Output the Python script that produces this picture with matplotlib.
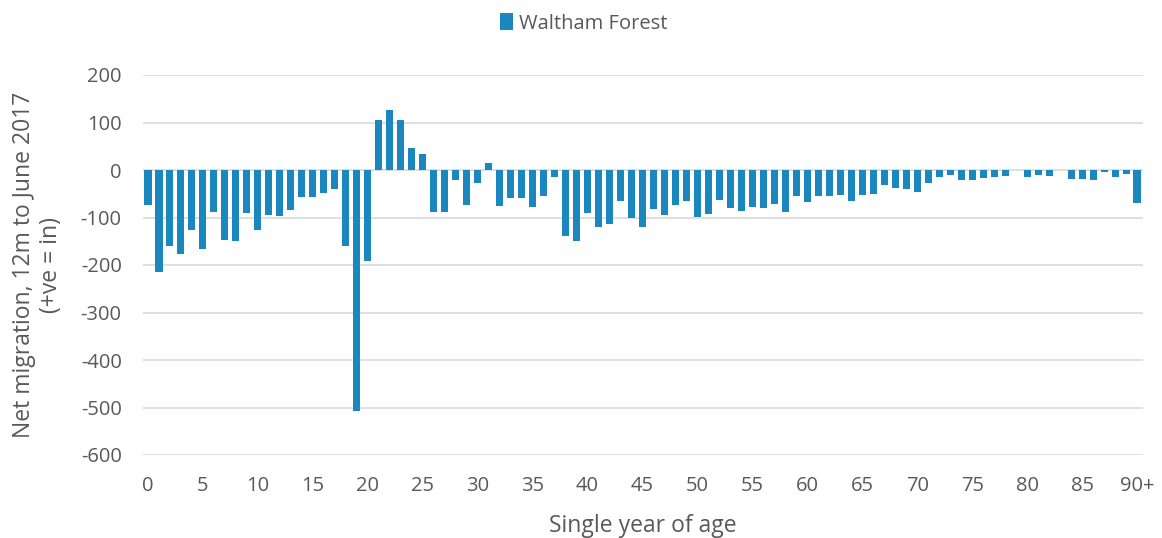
import matplotlib
matplotlib.use("Agg")
import matplotlib.pyplot as plt
import numpy as np

ages = [str(a) for a in range(90)] + ["90+"]
net_migration = [
    -74, -215, -161, -177, -126, -166, -88, -147, -149, -91,
    -127, -95, -96, -85, -56, -57, -49, -40, -159, -508,
    -191, 105, 126, 105, 46, 34, -88, -88, -21, -73,
    -28, 14, -76, -58, -58, -77, -54, -15, -138, -149,
    -90, -121, -114, -65, -102, -119, -83, -95, -73, -65,
    -99, -93, -63, -79, -86, -77, -81, -71, -88, -54,
    -68, -55, -55, -53, -65, -53, -50, -32, -37, -39,
    -46, -27, -15, -11, -20, -22, -16, -15, -13, -1,
    -15, -11, -13, 0, -19, -18, -20, -5, -15, -9,
    -69,
]
series_name = "Waltham Forest"
yticks = [200, 100, 0, -100, -200, -300, -400, -500, -600]

plt.rcParams['font.family'] = ['Open Sans', 'DejaVu Sans']
text_color = "#595959"
bar_color = "#1a87be"

fig = plt.figure(figsize=(11.62, 5.38), dpi=100)
ax = fig.add_axes([142.5/1162, 1 - 455/538, 1000/1162, 380/538])

x = np.arange(len(ages))
ax.bar(x, net_migration, width=0.64, color=bar_color, label=series_name, zorder=3)

ax.set_ylim(-600, 200)
ax.set_xlim(-0.5, len(ages) - 0.5)
ax.set_yticks(yticks)
ax.set_yticklabels([str(v) for v in yticks])
ax.yaxis.grid(True, color="#d9d9d9", linewidth=1.2, zorder=0)
ax.set_axisbelow(True)

tick_pos = list(range(0, len(ages), 5))
ax.set_xticks(tick_pos)
ax.set_xticklabels([ages[i] for i in tick_pos])

for s in ax.spines.values():
    s.set_visible(False)
ax.tick_params(axis='both', length=0, labelsize=14.5, colors=text_color)
ax.tick_params(axis='y', pad=15)
ax.tick_params(axis='x', pad=15)

ax.set_xlabel("Single year of age", fontsize=16.5, color=text_color, labelpad=13)
ax.set_ylabel("Net migration, 12m to June 2017\n(+ve = in)", fontsize=16.5,
              color=text_color, labelpad=13, linespacing=1.15)

leg = fig.legend(loc='center', bbox_to_anchor=(0.502, 1 - 23.5/538), frameon=False,
                 fontsize=14.5, handlelength=0.65, handleheight=0.9, handletextpad=0.3)
for t in leg.get_texts():
    t.set_color(text_color)

fig.savefig("out.png", dpi=100)
